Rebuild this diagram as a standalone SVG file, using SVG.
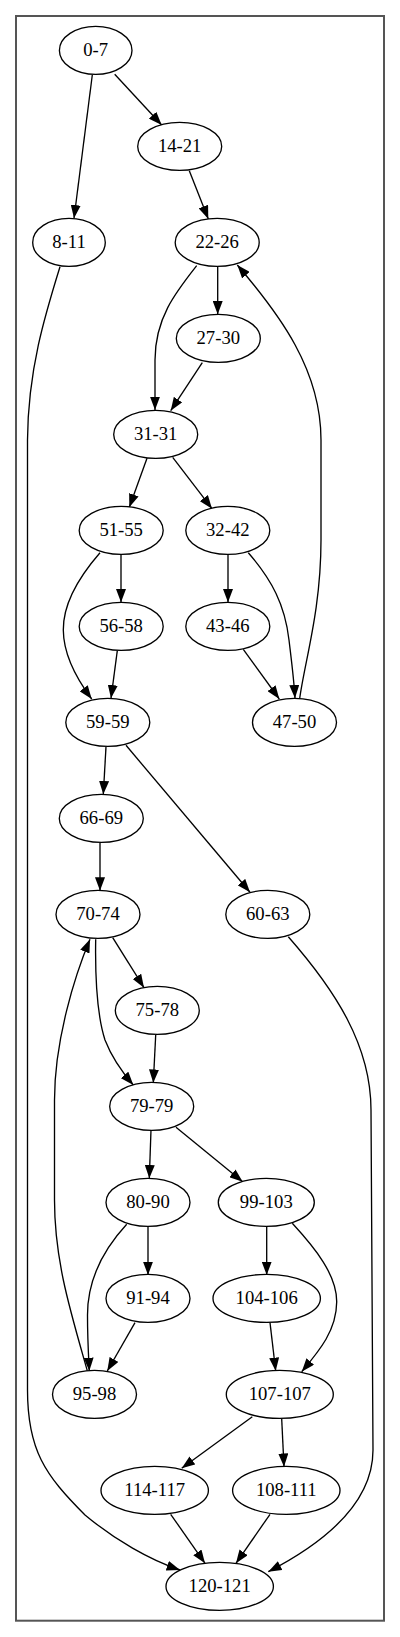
<svg xmlns="http://www.w3.org/2000/svg" width="400" height="1637" viewBox="0 0 400 1637">
<style>
.n ellipse{fill:#fff;stroke:#000;stroke-width:1.33}
.n text{font-family:"Liberation Serif","Times New Roman",serif;font-size:18.67px;text-anchor:middle;fill:#000}
#edges path{fill:none;stroke:#000;stroke-width:1.33;marker-end:url(#ah)}
</style>
<defs>
<marker id="ah" markerUnits="userSpaceOnUse" markerWidth="13.33" markerHeight="10" viewBox="0 0 13.33 10" refX="13.33" refY="5" orient="auto"><path d="M0,0 L13.33,5 L0,10 z" fill="#000"/></marker>
</defs>
<rect x="0" y="0" width="400" height="1637" fill="#fff"/>
<rect x="16" y="16" width="368" height="1604.7" fill="none" stroke="#555" stroke-width="2"/>
<g id="edges">
<path d="M114.7,74.3 L161.7,125"/>
<path d="M92.3,75 L74,218.3"/>
<path d="M189.3,170.7 L208.3,219"/>
<path d="M217.7,266.7 L217.7,314.3"/>
<path d="M196.7,265.7 C176,292 155,318 155,360 L155,410"/>
<path d="M202.3,362.7 L170.7,410.7"/>
<path d="M299.7,698.3 C305,660 321,610 321,540 L321,440 C321,370 280,315 237.3,265"/>
<path d="M147,458.3 L129.3,507.3"/>
<path d="M172.7,457.3 L212,508.7"/>
<path d="M121,554.3 L121,602.3"/>
<path d="M100,552.7 C78,578 63,605 63.3,630 C63.5,655 76,678 91.7,699"/>
<path d="M117.3,650.7 L111,698.3"/>
<path d="M228,554.3 L228,602.3"/>
<path d="M248.3,552.7 C272,580 285,605 289,640 C292,665 294,680 295,698.3"/>
<path d="M243.3,649.3 L279.3,699"/>
<path d="M106,746.7 L103.3,794.3"/>
<path d="M126,745.3 L250,892.3"/>
<path d="M100,842.7 L100,890.7"/>
<path d="M112.7,937.7 L144,987.7"/>
<path d="M95.7,939.3 C95,980 97,1015 105,1040 C112,1058 122,1072 133.3,1085"/>
<path d="M155.7,1035 L153.3,1082.7"/>
<path d="M288.3,936.7 C335,990 371,1045 371,1110 L373,1450 C373,1505 320,1545 268.3,1571.7"/>
<path d="M60,266.7 C45,315 28,370 27.5,440 L27.5,1390 C27.5,1450 45,1475 85,1515 C115,1540 150,1560 180,1570"/>
<path d="M151,1130 L149.3,1178.3"/>
<path d="M176,1127.3 L242.7,1181.7"/>
<path d="M148,1226.7 L148,1275"/>
<path d="M126.7,1224.3 C103,1250 87.5,1280 87.5,1315 C87.5,1340 88.5,1355 89.3,1371"/>
<path d="M135,1322.7 L107.3,1371"/>
<path d="M87.3,1370.7 C70,1310 54.5,1260 54.5,1200 L54.5,1100 C54.5,1040 75,975 90,939.3"/>
<path d="M266.7,1226.7 L266.7,1275"/>
<path d="M292.3,1223.3 C315,1248 337,1275 336.7,1302 C336.5,1330 320,1350 301.7,1371.7"/>
<path d="M270,1322.7 L275.7,1371"/>
<path d="M252.3,1416.7 L181.7,1468.3"/>
<path d="M281.7,1419 L284,1466.7"/>
<path d="M170.7,1514.3 L205,1563.3"/>
<path d="M270,1514.3 L236,1563.3"/>
</g>
<g id="n0-7" class="n"><ellipse cx="95.7" cy="50.4" rx="36.3" ry="24"/><text x="95.7" y="56">0-7</text></g>
<g id="n14-21" class="n"><ellipse cx="179.7" cy="146.4" rx="42" ry="24"/><text x="179.7" y="152">14-21</text></g>
<g id="n8-11" class="n"><ellipse cx="69" cy="242.4" rx="36.3" ry="24"/><text x="69" y="248">8-11</text></g>
<g id="n22-26" class="n"><ellipse cx="217.2" cy="242.4" rx="42" ry="24"/><text x="217.2" y="248">22-26</text></g>
<g id="n27-30" class="n"><ellipse cx="218.3" cy="338.4" rx="42" ry="24"/><text x="218.3" y="344">27-30</text></g>
<g id="n31-31" class="n"><ellipse cx="155.7" cy="434.4" rx="42" ry="24"/><text x="155.7" y="440">31-31</text></g>
<g id="n51-55" class="n"><ellipse cx="121.2" cy="530.4" rx="42" ry="24"/><text x="121.2" y="536">51-55</text></g>
<g id="n32-42" class="n"><ellipse cx="227.8" cy="530.4" rx="42" ry="24"/><text x="227.8" y="536">32-42</text></g>
<g id="n56-58" class="n"><ellipse cx="121.2" cy="626.4" rx="42" ry="24"/><text x="121.2" y="632">56-58</text></g>
<g id="n43-46" class="n"><ellipse cx="227.8" cy="626.4" rx="42" ry="24"/><text x="227.8" y="632">43-46</text></g>
<g id="n59-59" class="n"><ellipse cx="107.8" cy="722.4" rx="42" ry="24"/><text x="107.8" y="728">59-59</text></g>
<g id="n47-50" class="n"><ellipse cx="294.5" cy="722.4" rx="42" ry="24"/><text x="294.5" y="728">47-50</text></g>
<g id="n66-69" class="n"><ellipse cx="101.3" cy="818.4" rx="42" ry="24"/><text x="101.3" y="824">66-69</text></g>
<g id="n70-74" class="n"><ellipse cx="98" cy="914.4" rx="42" ry="24"/><text x="98" y="920">70-74</text></g>
<g id="n60-63" class="n"><ellipse cx="267.8" cy="914.4" rx="42" ry="24"/><text x="267.8" y="920">60-63</text></g>
<g id="n75-78" class="n"><ellipse cx="157.3" cy="1010.4" rx="42" ry="24"/><text x="157.3" y="1016">75-78</text></g>
<g id="n79-79" class="n"><ellipse cx="151.7" cy="1106.4" rx="42" ry="24"/><text x="151.7" y="1112">79-79</text></g>
<g id="n80-90" class="n"><ellipse cx="148" cy="1202.4" rx="42" ry="24"/><text x="148" y="1208">80-90</text></g>
<g id="n99-103" class="n"><ellipse cx="266.3" cy="1202.4" rx="48" ry="24"/><text x="266.3" y="1208">99-103</text></g>
<g id="n91-94" class="n"><ellipse cx="148" cy="1298.4" rx="42" ry="24"/><text x="148" y="1304">91-94</text></g>
<g id="n104-106" class="n"><ellipse cx="266.7" cy="1298.4" rx="53.7" ry="24"/><text x="266.7" y="1304">104-106</text></g>
<g id="n95-98" class="n"><ellipse cx="94.5" cy="1394.4" rx="42" ry="24"/><text x="94.5" y="1400">95-98</text></g>
<g id="n107-107" class="n"><ellipse cx="279.8" cy="1394.4" rx="53.5" ry="24"/><text x="279.8" y="1400">107-107</text></g>
<g id="n114-117" class="n"><ellipse cx="154.7" cy="1490.4" rx="53.7" ry="24"/><text x="154.7" y="1496">114-117</text></g>
<g id="n108-111" class="n"><ellipse cx="286.3" cy="1490.4" rx="53.7" ry="24"/><text x="286.3" y="1496">108-111</text></g>
<g id="n120-121" class="n"><ellipse cx="219.7" cy="1586.4" rx="53.7" ry="24"/><text x="219.7" y="1592">120-121</text></g>
</svg>
